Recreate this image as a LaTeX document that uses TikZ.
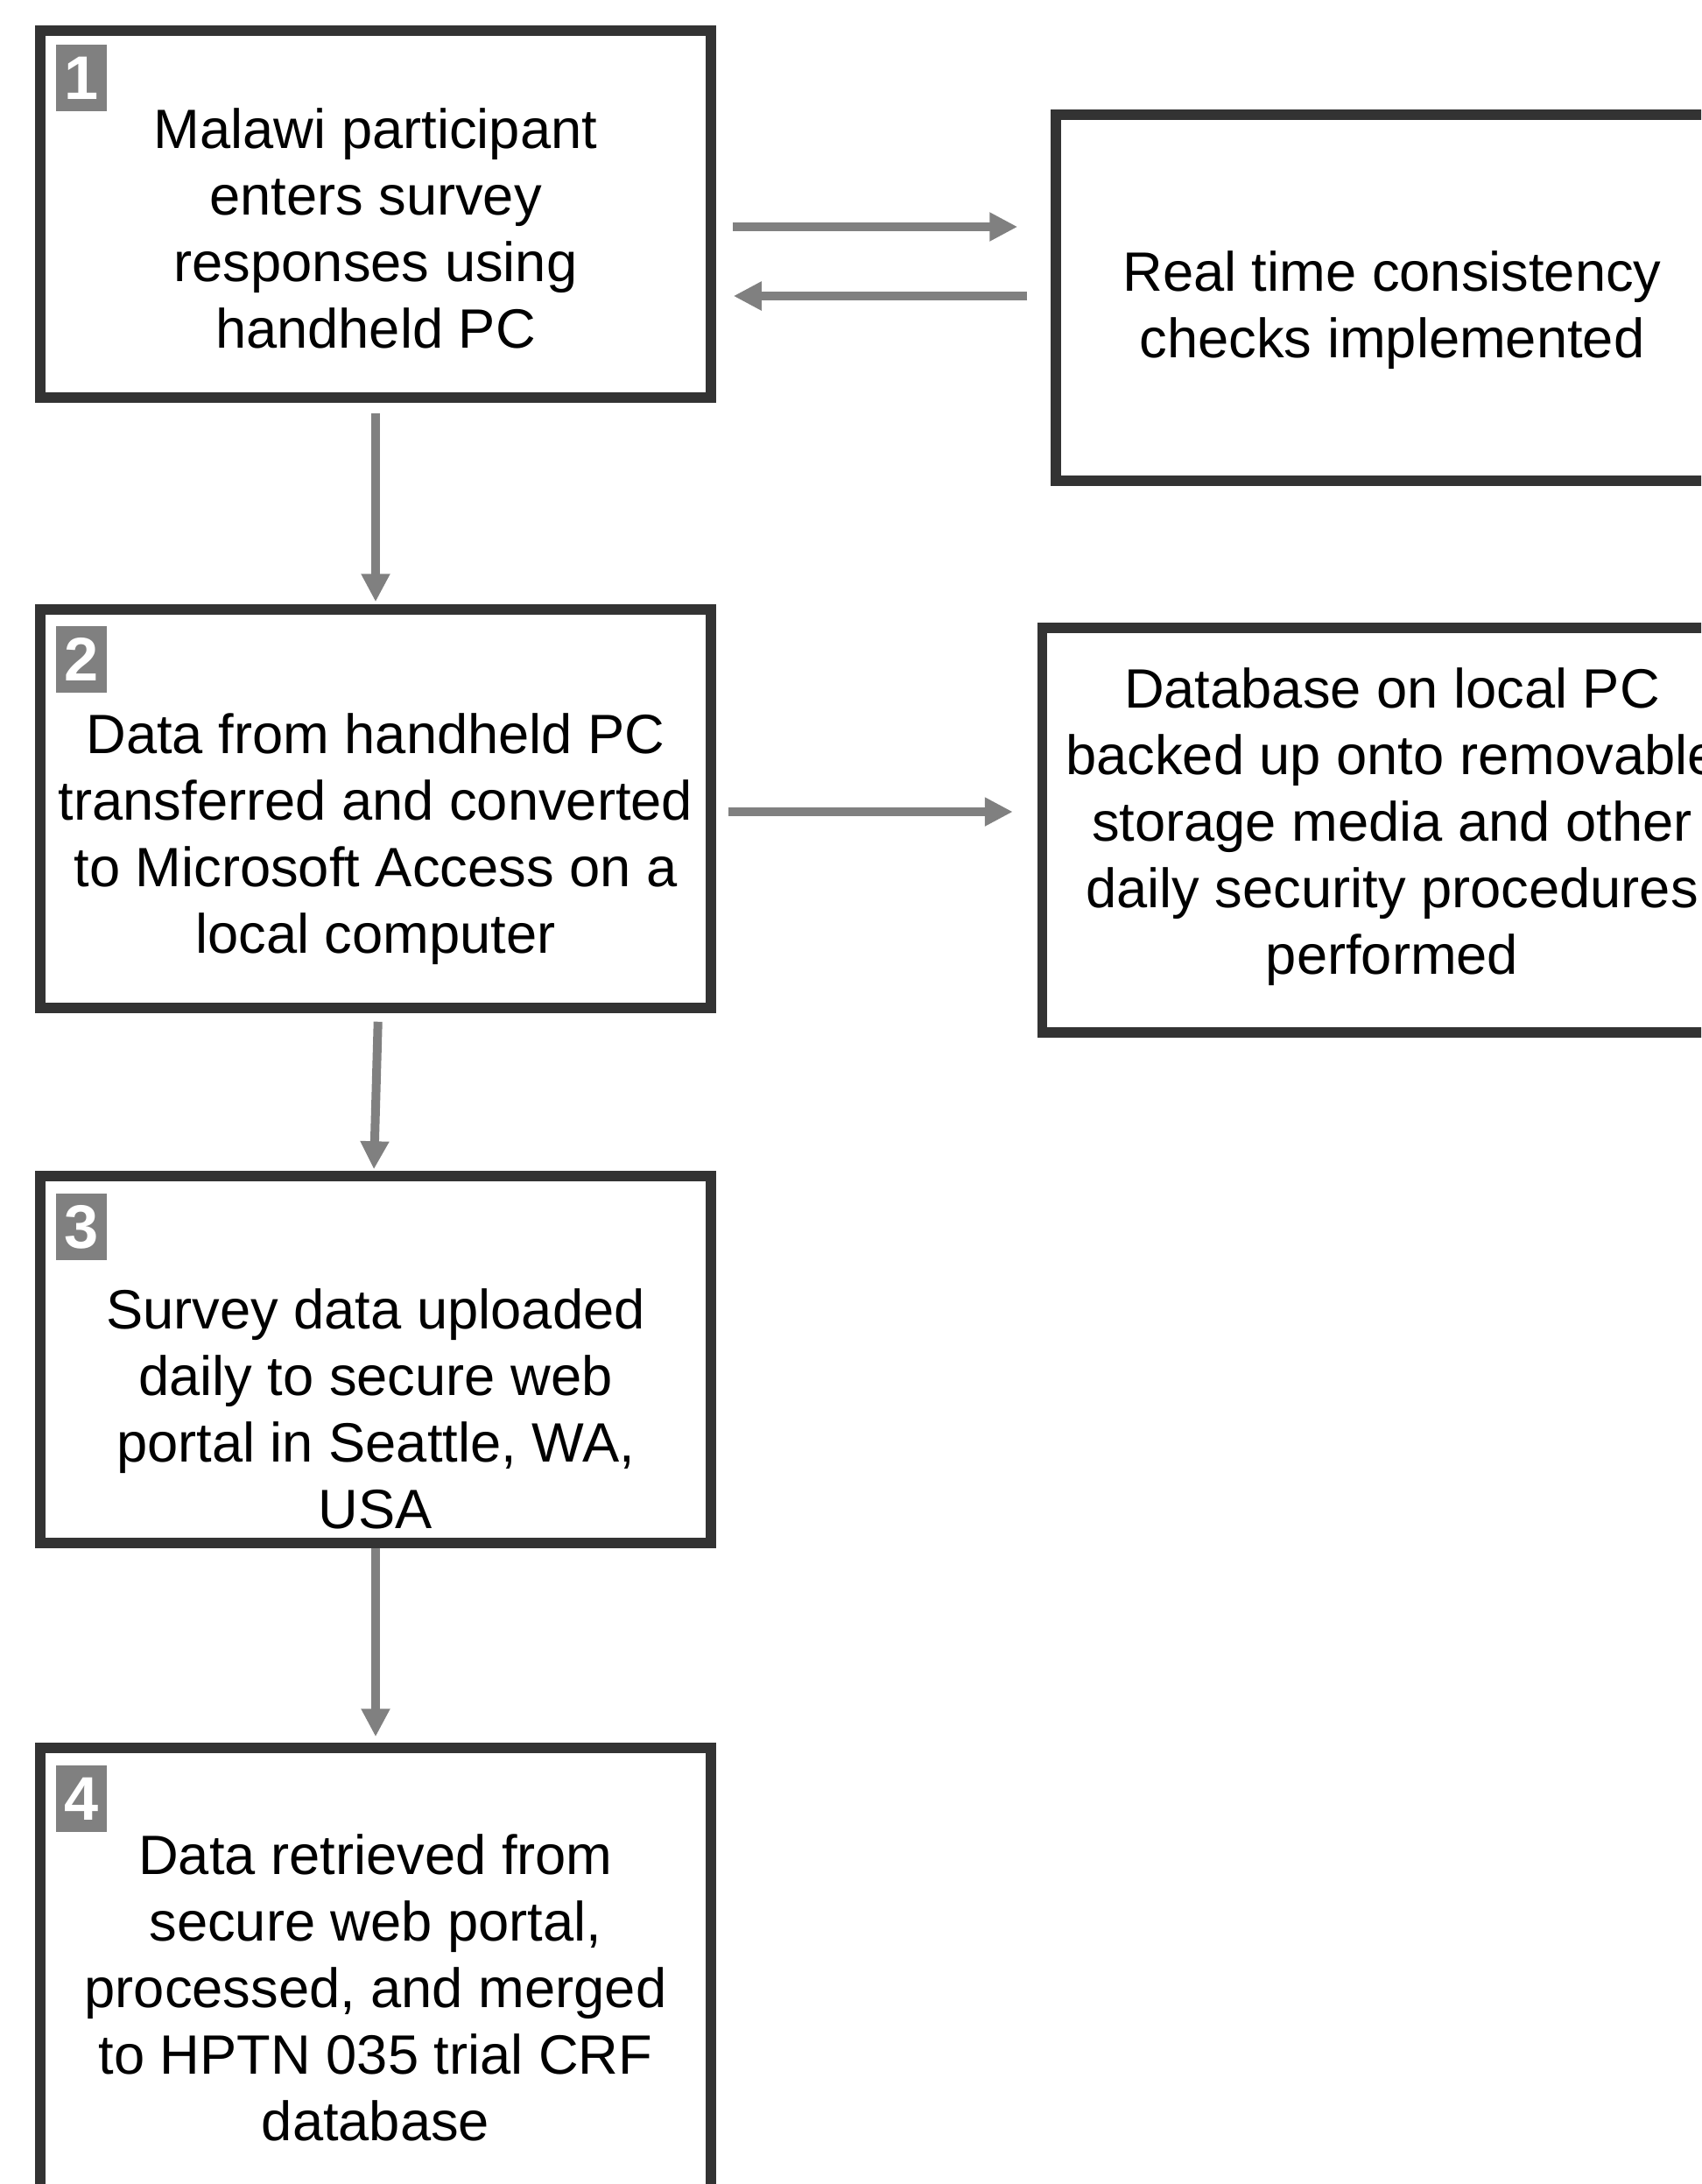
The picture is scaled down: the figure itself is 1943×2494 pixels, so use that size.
\documentclass[tikz,border=0pt]{standalone}
\usepackage{fontspec}
\setmainfont{Liberation Sans}
\usepackage{tikz}
\usetikzlibrary{arrows.meta}
\definecolor{boxgray}{HTML}{333333}
\definecolor{arrowgray}{HTML}{808080}

\begin{document}
\begin{tikzpicture}[x=0.1mm, y=-0.1mm,
    stage/.style={draw=boxgray, line width=1.15mm, minimum width=76.6mm, inner sep=0},
    blurb/.style={align=center, font=\fontsize{18}{21.6}\selectfont},
    badge/.style={fill=arrowgray, text=white, font=\fontsize{20}{24}\selectfont\bfseries,
        minimum width=5.8mm, minimum height=7.6mm, inner sep=0, anchor=north west},
    flow/.style={color=arrowgray, line width=1mm, -{Triangle[length=3.2mm,width=3.1mm]}}]
        \useasboundingbox (0,0) rectangle (1943,2494);
        \clip (0,0) rectangle (1943,2494);
        % main steps
        \node[stage, minimum height=41.9mm] (b1) at (429,244.5) {};
        \node[stage, minimum height=45.5mm] (b2) at (429,923.5) {};
        \node[stage, minimum height=41.9mm] (b3) at (429,1552.5) {};
        \node[stage, minimum height=56mm] (b4) at (429,2276) {};
        % side boxes
        \node[stage, minimum width=76mm, minimum height=41.8mm] (r1) at (1586,340) {};
        \node[stage, minimum width=79.9mm, minimum height=46.2mm] (r2) at (1590,948) {};
        \node[badge] (n1) at ([shift={(23,21)}]b1.north west) {1};
        \node[badge] (n2) at ([shift={(23,24)}]b2.north west) {2};
        \node[badge] (n3) at ([shift={(23,25)}]b3.north west) {3};
        \node[badge] (n4) at ([shift={(23,25)}]b4.north west) {4};
        \node[blurb] (t1) at (429,261) {Malawi participant\\enters survey\\responses using\\handheld PC};
        \node[blurb] (t2) at (429,958) {Data from handheld PC\\transferred and converted\\to Microsoft Access on a\\local computer};
        \node[blurb] (t3) at (429,1609) {Survey data uploaded\\daily to secure web\\portal in Seattle, WA,\\USA};
        \node[blurb] (t4) at (429,2270) {Data retrieved from\\secure web portal,\\processed, and merged\\to HPTN 035 trial CRF\\database};
        \node[blurb] (tr1) at (1590,354) {Real time consistency\\checks implemented};
        \node[blurb] (tr2) at (1590,944) {Database on local PC\\backed up onto removable\\storage media and other\\daily security procedures\\performed};
        % arrows
        \draw[flow, shorten <=1.2mm, shorten >=0.3mm] (b1) -- (b2);
        \draw[flow, shorten <=1mm, shorten >=0.2mm] ([xshift=0.3mm]b2.south) -- ([xshift=-0.2mm]b3.north);
        \draw[flow, shorten >=0.7mm] (b3) -- (b4);
        \draw[flow, shorten <=1.9mm, shorten >=3.8mm] (b1.east |- 0,259) -- (r1.west |- 0,259);
        \draw[flow, shorten <=2.7mm, shorten >=2mm] (r1.west |- 0,338) -- (b1.east |- 0,338);
        \draw[flow, shorten <=1.4mm, shorten >=2.8mm] (b2.east |- 0,927) -- (r2.west |- 0,927);
\end{tikzpicture}
\end{document}
